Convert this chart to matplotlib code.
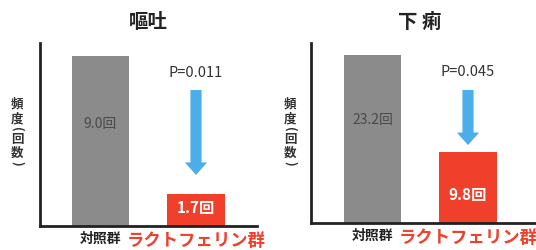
import numpy as np
import matplotlib
matplotlib.use("Agg")
import matplotlib.pyplot as plt

plt.rcParams['font.family'] = ['Noto Sans CJK JP', 'DejaVu Sans']

groups = ["対照群", "ラクトフェリン群"]
titles = ["嘔吐", "下 痢"]
vomit = [9.0, 1.7]
diarrhea = [23.2, 9.8]
p_values = ["P=0.011", "P=0.045"]
ylabel_chars = ["頻", "度", "(", "回", "数", ")"]

GRAY = "#8b8b8b"
RED = "#f0402b"
BLUE = "#4badea"

fig = plt.figure(figsize=(5.36, 2.5), dpi=100)

# panel geometry in pixels: left, right, bottom y, top y
panels = [
    dict(vals=vomit, x0=40, x1=257, yb=226, yt=43, gray_top=56, ylx=17,
         arrow=(0.743, 0.279), ptxt=0.836, lab=(0.557, 0.098), tx=148),
    dict(vals=diarrhea, x0=311, x1=535, yb=223, yt=43, gray_top=55, ylx=290,
         arrow=(0.739, 0.433), ptxt=0.839, lab=(0.572, 0.156), tx=420),
]
ylabel_y = [104, 119, 129, 139, 153, 163]

W, H = 536, 250
unit = 95.5  # px per category step
for i, pn in enumerate(panels):
    ax = fig.add_axes([pn['x0'] / W, (H - pn['yb']) / H,
                       (pn['x1'] - pn['x0']) / W, (pn['yb'] - pn['yt']) / H])
    ax.set_facecolor('none')
    vals = pn['vals']
    x = np.arange(2)
    ax.bar(x, vals, width=0.6, color=[GRAY, RED])
    c0 = 100.5 if i == 0 else 372.5
    ax.set_xlim(-(c0 - pn['x0']) / unit, 1 + (pn['x1'] - c0 - unit) / unit)
    ax.set_ylim(0, vals[0] * (pn['yb'] - pn['yt']) / (pn['yb'] - pn['gray_top']))
    for s in ['top', 'right']:
        ax.spines[s].set_visible(False)
    for s in ['left', 'bottom']:
        ax.spines[s].set_linewidth(2)
        ax.spines[s].set_color('#222222')
    ax.set_yticks([])
    ax.set_xticks(x)
    ax.set_xticklabels(groups)
    ax.tick_params(axis='x', length=0, pad=4)
    lbls = ax.get_xticklabels()
    lbls[0].set_fontsize(10)
    lbls[0].set_fontweight('bold')
    lbls[0].set_color('#222222')
    lbls[1].set_fontsize(12.5)
    lbls[1].set_fontweight('bold')
    lbls[1].set_color(RED)
    lbls[1].set_clip_on(False)

    # value labels inside bars
    ax.text(0, pn['lab'][0], f"{vals[0]:.1f}回", transform=ax.get_xaxis_transform(),
            ha='center', va='center', fontsize=10, color='#4a4a4a')
    ax.text(1, pn['lab'][1], f"{vals[1]:.1f}回", transform=ax.get_xaxis_transform(),
            ha='center', va='center', fontsize=11, color='white', fontweight='bold')

    # p-value and arrow
    ax.text(1, pn['ptxt'], p_values[i], transform=ax.get_xaxis_transform(),
            ha='center', va='center', fontsize=10.5, color='#333333')
    ax.annotate("", xy=(1, pn['arrow'][1]), xytext=(1, pn['arrow'][0]),
                xycoords=('data', 'axes fraction'), textcoords=('data', 'axes fraction'),
                arrowprops=dict(arrowstyle="simple,head_width=16,head_length=9,tail_width=8",
                                mutation_scale=1, color=BLUE, shrinkA=0, shrinkB=0, lw=0))

    # title and vertical y label (stacked characters)
    fig.text(pn['tx'] / W, 1 - 22 / H, titles[i], ha='center', va='center',
             fontsize=14, fontweight='bold', color='#222222')
    for ch, yy in zip(ylabel_chars, ylabel_y):
        rot = -90 if ch in "()" else 0
        fig.text(pn['ylx'] / W, 1 - yy / H, ch, ha='center', va='center', rotation=rot,
                 fontsize=9, fontweight='bold', color='#333333')

fig.savefig("out.png", dpi=100, facecolor='white')
